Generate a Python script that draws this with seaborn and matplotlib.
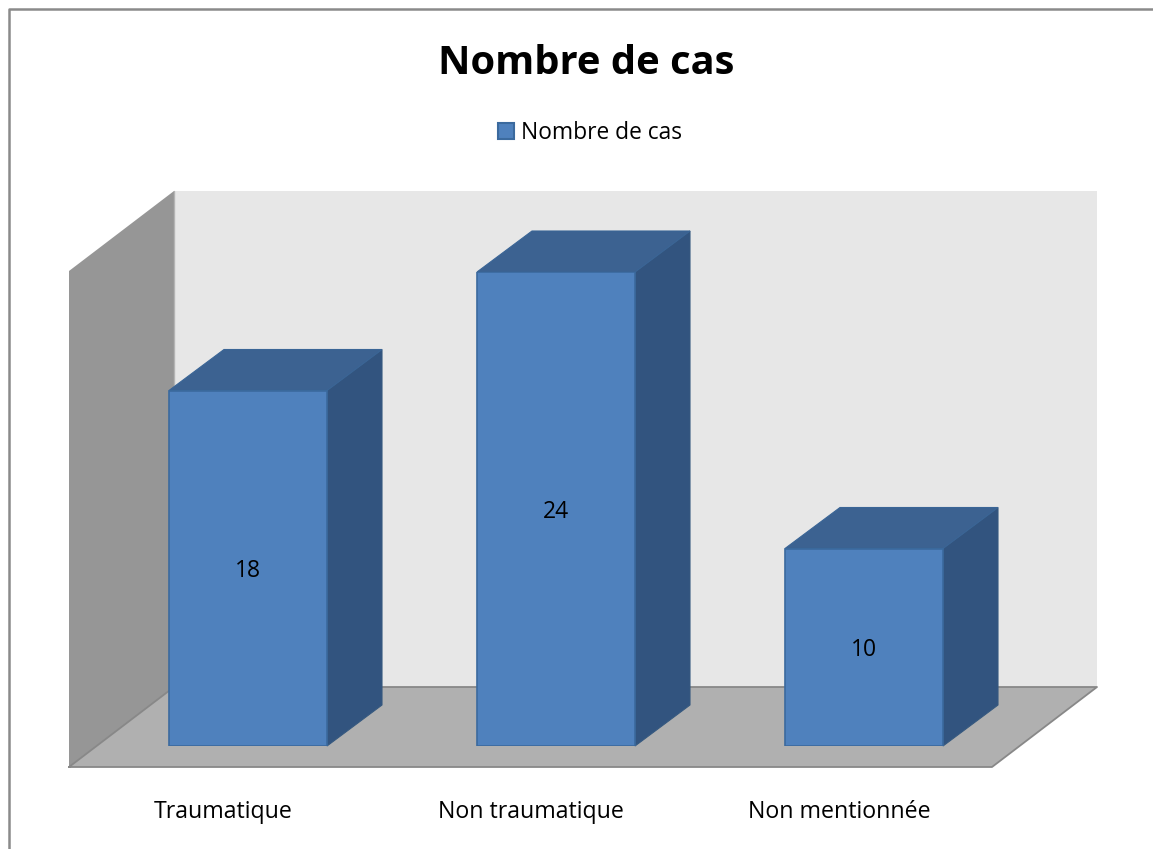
import matplotlib
matplotlib.use("Agg")
import matplotlib.pyplot as plt
from matplotlib.patches import Patch, Polygon
from matplotlib.transforms import ScaledTranslation
import pandas as pd
import seaborn as sns

categories = ["Traumatique", "Non traumatique", "Non mentionnée"]
cases = [18, 24, 10]
series_name = "Nombre de cas"

W, H = 1153, 849
DPI = 100

sns.set_style("white")
plt.rcParams["font.family"] = ["Open Sans", "DejaVu Sans"]

fig = plt.figure(figsize=(W / DPI, H / DPI), dpi=DPI, facecolor="white")

# backdrop in pixel coordinates: the 3d walls, floor and outer frame
bg = fig.add_axes([0, 0, 1, 1])
bg.set_xlim(0, W)
bg.set_ylim(H, 0)
bg.axis("off")
bg.add_patch(Polygon([(174, 191), (1097, 191), (1097, 687), (174, 687)], fc="#e7e7e7", ec="none"))
bg.add_patch(Polygon([(69, 271), (174, 191), (174, 687), (69, 767)], fc="#969696", ec="none"))
bg.plot([174, 174], [191, 687], color="#b4b4b4", lw=1)
bg.add_patch(Polygon([(69, 767), (174, 687), (1097, 687), (992, 767)], fc="#b0b0b0", ec="none"))
bg.plot([69, 992, 1097, 174, 69], [767, 767, 687, 687, 767], color="#888888", lw=1.3)
bg.plot([9, 9, W], [H, 9, 9], color="#8a8a8a", lw=1.8)

# bars sit on the front plane, baseline 746 px and value 24 at 272 px
ax = fig.add_axes([94 / W, 1 - 746 / H, 924 / W, 474 / H])
ax.patch.set_alpha(0)
df = pd.DataFrame({"cat": categories, "n": cases})
sns.barplot(data=df, x="cat", y="n", color="#4f81bd", saturation=1, width=158 / 308,
            edgecolor="#3b6a9e", linewidth=1.2, ax=ax, zorder=3)
ax.set_xlim(-0.5, 2.5)
ax.set_ylim(0, 24)
ax.set_xlabel("")
ax.set_ylabel("")
ax.set_yticks([])
sns.despine(ax=ax, left=True, bottom=True)

# side and top faces, taken from the bar rectangles
dx = 55 / 308
dy = 41 * 24 / 474
for bar in ax.patches:
    x0, x1 = bar.get_x(), bar.get_x() + bar.get_width()
    top = bar.get_height()
    ax.add_patch(Polygon([(x1, 0), (x1 + dx, dy), (x1 + dx, top + dy), (x1, top)],
                         fc="#32547f", ec="#36597f", lw=0.8, clip_on=False, zorder=2))
    ax.add_patch(Polygon([(x0, top), (x0 + dx, top + dy), (x1 + dx, top + dy), (x1, top)],
                         fc="#3c6291", ec="#3a6596", lw=0.8, clip_on=False, zorder=2))

labels = ax.bar_label(ax.containers[0], label_type="center", fontsize=16.5, color="black")
for lab in labels:
    lab.set_zorder(5)
    lab.xyann = (0, -2)

# category labels sit left of the bar centre, under the front floor edge
ax.tick_params(axis="x", length=0, pad=39, labelsize=16.7, labelcolor="black")
shift = ScaledTranslation(-25 / DPI, 0, fig.dpi_scale_trans)
for lab in ax.get_xticklabels():
    lab.set_transform(lab.get_transform() + shift)

fig.text(586 / W, 1 - 63 / H, series_name, fontsize=28.7, fontweight="bold", ha="center", va="center", color="black")

fig.legend(handles=[Patch(fc="#4f81bd", ec="#3b6a9e", lw=1.5, label=series_name)],
           loc="center", bbox_to_anchor=(590 / W, 1 - 133 / H), frameon=False, fontsize=16.4,
           labelcolor="black", handlelength=0.7, handleheight=0.7, handletextpad=0.3)

fig.savefig("out.png", dpi=DPI)
